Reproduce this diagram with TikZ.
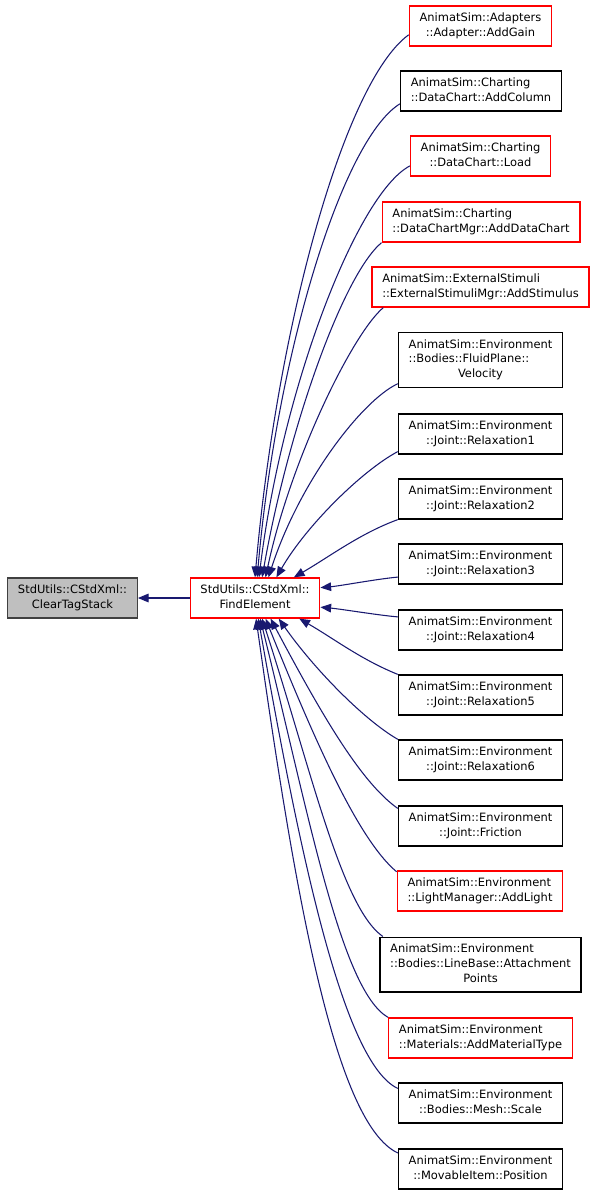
\documentclass[tikz,border=0pt]{standalone}
\usepackage{fontspec}
\setmainfont{DejaVu Sans}
\usetikzlibrary{arrows.meta}
\definecolor{edgeblue}{HTML}{191970}
\definecolor{focusfill}{HTML}{BFBFBF}
\definecolor{focusborder}{HTML}{404040}
\definecolor{callred}{HTML}{FF0000}
\newcommand{\docfont}{\fontsize{8.6}{11}\selectfont}
% all lines left, last line centred
\newcommand{\doxlbl}[2]{\begin{tabular}{@{}l@{}}#1\\\multicolumn{1}{@{}c@{}}{#2}\end{tabular}}
\tikzset{>={Triangle[length=8pt,width=6.5pt]},
  docnode/.style={draw, rectangle, inner xsep=7.7pt, inner ysep=4pt,
    line width=1pt, font=\docfont, fill=white},
  plainnode/.style={docnode, draw=black},
  rednode/.style={docnode, draw=callred},
  focusnode/.style={docnode, draw=focusborder, fill=focusfill},
  calledge/.style={->, draw=edgeblue, line width=0.8pt}
}

\begin{document}
\begin{tikzpicture}[x=0.75pt, y=-0.75pt]
\useasboundingbox (0,0) rectangle (596,1195);

% Left column
\node[focusnode] (cleartag) at (72.5,598) {\doxlbl{StdUtils::CStdXml::}{ClearTagStack}};
\node[rednode] (findelem) at (255,598) {\doxlbl{StdUtils::CStdXml::}{FindElement}};

% Callers
\node[rednode] (addgain) at (480.5,26) {\doxlbl{AnimatSim::Adapters}{::Adapter::AddGain}};
\node[plainnode] (addcolumn) at (481,91) {\doxlbl{AnimatSim::Charting}{::DataChart::AddColumn}};
\node[rednode] (load) at (480.5,156) {\doxlbl{AnimatSim::Charting}{::DataChart::Load}};
\node[rednode] (adddatachart) at (481,222) {\doxlbl{AnimatSim::Charting}{::DataChartMgr::AddDataChart}};
\node[rednode] (addstimulus) at (480.5,287) {\doxlbl{AnimatSim::ExternalStimuli}{::ExternalStimuliMgr::AddStimulus}};
\node[plainnode] (velocity) at (480.5,360) {\doxlbl{AnimatSim::Environment\\::Bodies::FluidPlane::}{Velocity}};
\foreach \i/\y in {1/434,2/499,3/564,4/630,5/695,6/760}
  \node[plainnode] (relax\i) at (480.5,\y) {\doxlbl{AnimatSim::Environment}{::Joint::Relaxation\i}};
\node[plainnode] (friction) at (480.5,826) {\doxlbl{AnimatSim::Environment}{::Joint::Friction}};
\node[rednode] (addlight) at (480,891) {\doxlbl{AnimatSim::Environment}{::LightManager::AddLight}};
\node[plainnode] (attachpts) at (480.5,964.5) {\doxlbl{AnimatSim::Environment\\::Bodies::LineBase::Attachment}{Points}};
\node[rednode] (addmattype) at (480.5,1038) {\doxlbl{AnimatSim::Environment}{::Materials::AddMaterialType}};
\node[plainnode] (meshscale) at (480.5,1103) {\doxlbl{AnimatSim::Environment}{::Bodies::Mesh::Scale}};
\node[plainnode] (position) at (480.5,1169) {\doxlbl{AnimatSim::Environment}{::MovableItem::Position}};

% Edges: caller/start anchor/end anchor/out/in/out dist/in dist
\foreach \n/\a/\e/\o/\t/\da/\db in {
    addgain/187/90/216/85/60/188,
    addcolumn/189/84/212/85/52/165,
    load/188/79/208/83/45/143,
    adddatachart/south west/71/220/80/38/113,
    addstimulus/192/63/220/78/30/90,
    velocity/196/57/205/72/30/75,
    relax1/192/44/208/60/30/45,
    relax2/194/28/200/30/30/30,
    relax3/189/9/185/5/15/15,
    relax4/171/352/175/355/15/15,
    relax5/166/335/158/330/30/30,
    relax6/north west/319/150/305/30/45,
    friction/168/307/145/298/34/80,
    addlight/167/297/140/292/38/98,
    attachpts/164/289/145/288/38/120,
    addmattype/north west/284/150/284/41/150,
    meshscale/170/279/155/280/45/180,
    position/169/273/155/278/52/210}
  \draw[calledge] (\n.\a) .. controls +(\o:\da pt) and +(\t:\db pt) .. (findelem.\e);

\draw[calledge] (findelem) -- (cleartag);

\end{tikzpicture}
\end{document}
